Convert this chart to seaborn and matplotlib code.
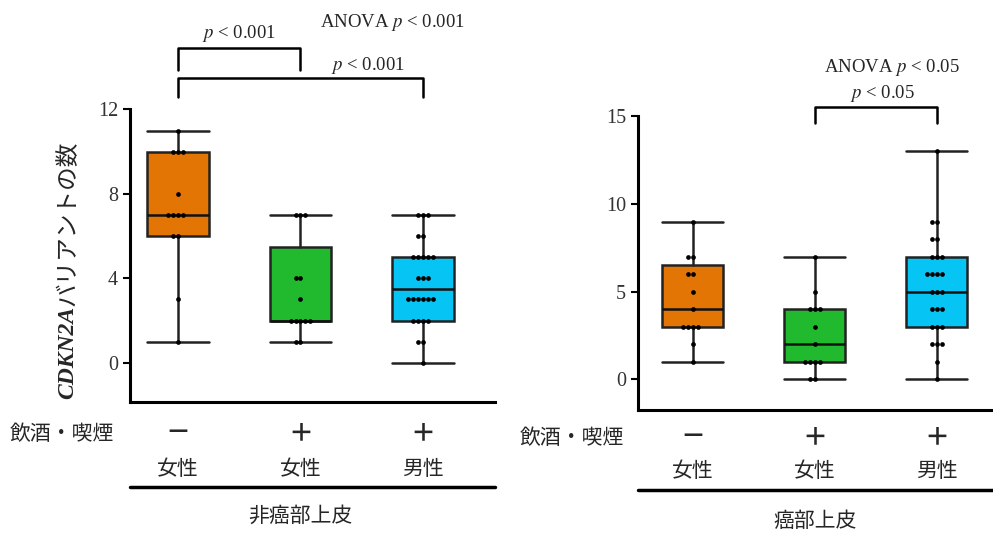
import numpy as np
import pandas as pd
import seaborn as sns
import matplotlib.pyplot as plt
from matplotlib.transforms import blended_transform_factory

sns.set_style("ticks")
plt.rcParams["font.family"] = ["Liberation Serif", "Noto Sans CJK JP"]
plt.rcParams["mathtext.fontset"] = "stix"

# データ
groups = ["no_f", "yes_f", "yes_m"]
colors = ["#E37505", "#21BA2E", "#06C4F3"]
drink_marks = ["－", "＋", "＋"]
sex_labels = ["女性", "女性", "男性"]

normal_no_f = [11, 10, 10, 10, 8, 7, 7, 7, 7, 6, 6, 3, 1]
normal_yes_f = [7, 7, 7, 4, 4, 3, 2, 2, 2, 2, 2, 1, 1]
normal_yes_m = [7, 7, 7, 6, 6, 5, 5, 5, 5, 5, 4, 4, 4,
                3, 3, 3, 3, 3, 3, 2, 2, 2, 2, 1, 1, 0]

tumor_no_f = [9, 7, 7, 6, 6, 5, 4, 3, 3, 3, 3, 2, 1]
tumor_yes_f = [7, 5, 4, 4, 4, 3, 2, 1, 1, 1, 1, 0, 0]
tumor_yes_m = [13, 9, 9, 8, 8, 7, 7, 7, 6, 6, 6, 6, 5,
               5, 5, 4, 4, 4, 3, 3, 3, 2, 2, 2, 1, 0]

W, H = 993, 533
fig = plt.figure(figsize=(W / 100, H / 100), dpi=100)

ax1 = fig.add_axes([130 / W, 1 - 402 / H, 365 / W, 292.5 / H])
ax2 = fig.add_axes([638 / W, 1 - 410 / H, 355 / W, 293.6 / H])


def draw_panel(ax, values, ylim, yticks, xlim):
    df = pd.DataFrame({
        "group": np.repeat(groups, [len(v) for v in values]),
        "value": np.concatenate(values),
    })
    stats = []
    for v in values:
        q1, med, q3 = np.percentile(v, [25, 50, 75], method="weibull")
        stats.append(dict(q1=q1, med=med, q3=q3, whislo=min(v), whishi=max(v), fliers=[]))
    line = dict(color="#222222", linewidth=1.8)
    bp = ax.bxp(stats, positions=range(3), widths=0.5, capwidths=0.5,
                patch_artist=True, showfliers=False, manage_ticks=False,
                boxprops=dict(edgecolor="#222222", linewidth=1.8),
                whiskerprops=line, capprops=line,
                medianprops=dict(color="#111111", linewidth=1.8))
    for patch, c in zip(bp["boxes"], colors):
        patch.set_facecolor(c)
    sns.swarmplot(data=df, x="group", y="value", order=groups, color="black",
                  size=3.4, linewidth=0, ax=ax, zorder=3)
    ax.set_xlim(*xlim)
    ax.set_ylim(*ylim)
    ax.set_yticks(yticks)
    ax.set_xticks([])
    ax.set_xlabel("")
    ax.set_ylabel("")
    sns.despine(ax=ax)
    for s in ["left", "bottom"]:
        ax.spines[s].set_linewidth(2.2)
        ax.spines[s].set_color("black")
    ax.tick_params(axis="y", length=5, width=1.5, labelsize=14.5,
                   color="black", labelcolor="#333333")
    ax.set_facecolor("none")


draw_panel(ax1, [normal_no_f, normal_yes_f, normal_yes_m], (-1.86, 12.0), [0, 4, 8, 12], (-0.392, 2.588))
draw_panel(ax2, [tumor_no_f, tumor_yes_f, tumor_yes_m], (-1.75, 15.0), [0, 5, 10, 15], (-0.45, 2.46))


def fy(y):
    return 1 - y / H


def labels_below(ax, y_mark, y_sex, y_line, y_title, title, x_head):
    tr = blended_transform_factory(ax.transData, fig.transFigure)
    fig.text(x_head / W, fy(y_mark + 2), "飲酒・喫煙", ha="left", va="center", fontsize=15)
    for i in range(3):
        ax.text(i, fy(y_mark), drink_marks[i], transform=tr, ha="center", va="center",
                fontsize=18, fontweight="bold", family="Noto Sans CJK JP", clip_on=False)
        ax.text(i, fy(y_sex), sex_labels[i], transform=tr, ha="center", va="center",
                fontsize=15, clip_on=False)
    x0, x1 = ax.get_xlim()
    ax.plot([x0, x1], [fy(y_line), fy(y_line)], transform=tr, color="black",
            lw=2.5, clip_on=False)
    ax.text(1, fy(y_title), title, transform=tr, ha="center", va="center",
            fontsize=15, clip_on=False)


labels_below(ax1, 433, 470, 487, 517, "非癌部上皮", 10)
labels_below(ax2, 437, 472, 490, 522, "癌部上皮", 520)


def bracket(ax, xa, xb, y_top, y_leg):
    tr = blended_transform_factory(ax.transData, fig.transFigure)
    ax.plot([xa, xa, xb, xb], [fy(y_leg), fy(y_top), fy(y_top), fy(y_leg)],
            transform=tr, color="black", lw=1.8, clip_on=False)


def ptext(ax, x, y, s):
    tr = blended_transform_factory(ax.transData, fig.transFigure)
    ax.text(x, fy(y), s, transform=tr, ha="center", va="center", fontsize=13.5,
            clip_on=False)


bracket(ax1, 0, 1, 48, 70)
bracket(ax1, 0, 2, 78, 97)
ptext(ax1, 0.5, 33, r"$p$ < 0.001")
ptext(ax1, 1.55, 65, r"$p$ < 0.001")
ptext(ax1, 1.75, 22, r"ANOVA $p$ < 0.001")

bracket(ax2, 1, 2, 107, 123)
ptext(ax2, 1.55, 93, r"$p$ < 0.05")
ptext(ax2, 1.63, 67, r"ANOVA $p$ < 0.05")

# 縦軸ラベル
t1 = fig.text(68 / W, fy(399), "CDKN2A", rotation=90, ha="center", va="bottom",
              fontsize=17, fontweight="bold", fontstyle="italic", family="Liberation Serif")
fig.canvas.draw()
bb = t1.get_window_extent()
fig.text(68 / W, bb.y1 / H, "バリアントの数", rotation=90, ha="center", va="bottom",
         fontsize=17, family="Noto Sans CJK JP")

fig.savefig("out.png", dpi=100)
